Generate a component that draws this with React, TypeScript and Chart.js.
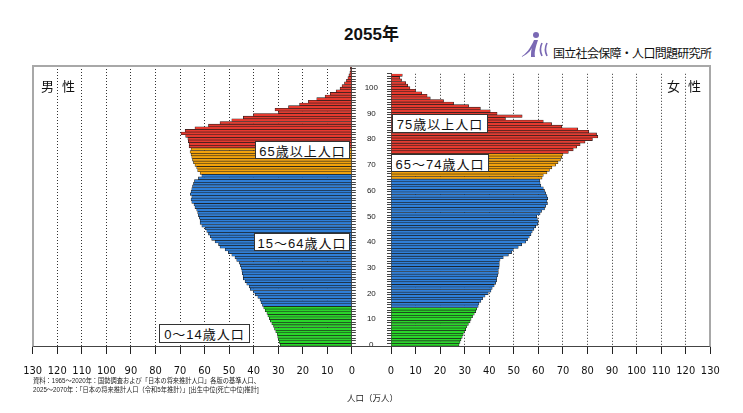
import { useEffect, useRef } from "react";
import { Chart, registerables } from "chart.js";

Chart.register(...registerables);

// 年齢（0〜105歳）
const AGES = Array.from({ length: 106 }, (_, i) => String(i));

// 男性人口（万人）0歳から順に
const MALE = [
  29.2, 29.6, 29.9, 30.2, 30.4, 31.0, 31.5, 31.9, 32.6, 33.2, // 0-9
  33.6, 34.2, 34.6, 35.3, 35.9, 36.4, 37.0, 37.4, 38.3, 39.4, // 10-19
  40.1, 41.4, 41.8, 42.8, 43.5, 44.2, 44.3, 44.6, 44.8, 45.1, // 20-29
  45.4, 45.9, 46.9, 47.6, 48.9, 50.3, 51.6, 53.7, 54.3, 55.7, // 30-39
  57.1, 57.7, 58.4, 59.1, 59.8, 61.1, 61.8, 61.8, 62.1, 62.5, // 40-49
  62.8, 63.2, 63.9, 64.3, 65.2, 65.5, 65.2, 65.8, 65.5, 65.2, // 50-59
  64.9, 64.5, 64.1, 62.5, 61.1, 61.8, 62.8, 63.2, 63.9, 64.5, // 60-69
  64.9, 65.2, 65.5, 65.9, 65.5, 66.3, 66.3, 66.6, 66.8, 67.7, // 70-79
  69.6, 67.9, 63.9, 58.4, 53.7, 48.9, 44.2, 40.1, 29.9, 31.3, // 80-89
  25.8, 21.3, 17.7, 14.3, 10.9, 8.8, 6.4, 4.8, 4.0, 3.0, // 90-99
  2.2, 1.6, 1.2, 0.8, 0.5, 0.6, // 100-105
];

// 女性人口（万人）0歳から順に
const FEMALE = [
  27.7, 28.1, 28.5, 29.0, 29.4, 29.9, 30.4, 30.9, 31.5, 32.2, // 0-9
  32.6, 33.2, 33.9, 34.5, 34.9, 35.5, 35.8, 36.6, 37.3, 38.3, // 10-19
  39.6, 40.7, 41.2, 42.0, 42.6, 43.0, 43.1, 43.4, 43.7, 43.7, // 20-29
  44.0, 44.1, 44.1, 44.4, 45.7, 47.8, 49.1, 49.8, 51.8, 53.2, // 30-39
  54.8, 55.6, 56.3, 57.0, 57.5, 58.2, 58.9, 59.7, 60.0, 59.6, // 40-49
  59.3, 60.7, 61.3, 62.5, 63.0, 63.7, 63.5, 63.8, 63.5, 63.0, // 50-59
  62.5, 62.0, 61.0, 60.7, 60.5, 61.5, 62.0, 63.5, 64.5, 65.5, // 60-69
  67.0, 68.0, 69.0, 69.5, 70.0, 72.2, 74.2, 75.6, 77.0, 79.0, // 70-79
  82.0, 84.2, 83.7, 80.5, 76.0, 69.5, 65.4, 62.0, 46.6, 53.4, // 80-89
  43.2, 40.4, 36.4, 31.6, 25.5, 21.4, 16.0, 14.7, 12.5, 10.0, // 90-99
  7.7, 6.8, 6.0, 4.3, 3.5, 4.6, // 100-105
];

// 年齢区分ごとの色：0〜14, 15〜64, 65〜74, 75〜
const GROUP_COLORS = ["#2ad62a", "#2f7fd8", "#f2a20c", "#e53a2f"];
const colorOf = (age: number) =>
  age <= 14 ? GROUP_COLORS[0] : age <= 64 ? GROUP_COLORS[1] : age <= 74 ? GROUP_COLORS[2] : GROUP_COLORS[3];

const FONT = '"Liberation Sans", Arial, "Noto Sans CJK JP", sans-serif';
const NARROW = '"Liberation Sans Narrow", "DejaVu Sans Condensed", "Liberation Sans", sans-serif';

const PyramidSide = ({ values, side, style }: any) => {
  const canvasRef = useRef<HTMLCanvasElement>(null);

  useEffect(() => {
    if (!canvasRef.current) return;
    const isLeft = side === "left";
    const chart = new Chart(canvasRef.current, {
      type: "bar",
      data: {
        labels: AGES,
        datasets: [
          {
            data: values,
            backgroundColor: AGES.map((a) => colorOf(Number(a))),
            borderColor: "#1b1b1b",
            borderWidth: 0.6,
            barPercentage: 1,
            categoryPercentage: 1,
          },
        ],
      },
      options: {
        indexAxis: "y",
        responsive: false,
        animation: false,
        events: [],
        layout: {
          padding: isLeft
            ? { left: 32.7, top: 6, right: 0, bottom: 0 }
            : { left: 0, top: 6, right: 32.7, bottom: 0 },
        },
        plugins: { legend: { display: false }, tooltip: { enabled: false } },
        scales: {
          x: {
            type: "linear",
            min: 0,
            max: 130,
            reverse: isLeft,
            ticks: {
              stepSize: 10,
              padding: 11,
              maxRotation: 0,
              autoSkip: false,
              color: "#111",
              font: { family: NARROW, size: 11 },
            },
            grid: {
              color: (ctx: any) =>
                ctx.tick && (ctx.tick.value === 0 || ctx.tick.value === 130) ? "rgba(0,0,0,0)" : "#333",
              lineWidth: 1,
              tickLength: 8,
              tickColor: "#222",
              tickWidth: 1,
            },
            border: { display: false, dash: [1, 2] },
            afterFit: (s: any) => {
              s.height = 36;
            },
          },
          y: {
            type: "category",
            position: isLeft ? "right" : "left",
            reverse: true,
            ticks: {
              display: !isLeft,
              autoSkip: false,
              crossAlign: "center",
              padding: 9,
              color: "#222",
              font: { family: FONT, size: 8 },
              callback: (_v: any, i: number) => (i % 10 === 0 ? AGES[i] : ""),
            },
            grid: { drawOnChartArea: false, tickLength: 4, color: "#444", tickColor: "#444" },
            border: { display: true, color: "#444", width: 1 },
            afterFit: (s: any) => {
              s.width = isLeft ? 6 : 36;
            },
          },
        },
      },
    } as any);

    return () => chart.destroy();
  }, [values, side]);

  return <canvas ref={canvasRef} width={style.width} height={style.height} style={{ position: "absolute", ...style }} />;
};

const boxStyle = (left: number, top: number, width: number, height: number): any => ({
  position: "absolute",
  left,
  top,
  width,
  height,
  boxSizing: "border-box",
  background: "#fff",
  border: "1px solid #333",
  font: `13px ${FONT}`,
  letterSpacing: 1,
  display: "flex",
  alignItems: "center",
  justifyContent: "center",
  color: "#111",
  whiteSpace: "nowrap",
  zIndex: 3,
});

export default function App() {
  return (
    <div
      style={{
        position: "fixed",
        left: 0,
        top: 0,
        width: 743,
        height: 413,
        overflow: "hidden",
        background: "#fff",
        fontFamily: FONT,
        color: "#111",
      }}
    >
      <div
        style={{
          position: "absolute",
          left: 0,
          width: 743,
          top: 20,
          textAlign: "center",
          font: `bold 17px ${FONT}`,
        }}
      >
        2055年
      </div>

      <svg width="30" height="27" viewBox="0 0 30 27" style={{ position: "absolute", left: 519, top: 31 }}>
        <circle cx="17" cy="4" r="3" fill="#7a69b4" />
        <path d="M1 26 C 7 24, 12 16, 15 9 L 19 9 C 17 15, 15 21, 16 26 L 12 26 C 12 22, 12 19, 13 17 C 10 22, 6 25, 1 26 Z" fill="#7a69b4" />
        <path d="M23 12 C 21 16, 21 21, 23 25" stroke="#7a69b4" strokeWidth="1.6" fill="none" />
        <path d="M28 12 C 26 16, 26 21, 28 25" stroke="#7a69b4" strokeWidth="1.6" fill="none" />
      </svg>
      <div style={{ position: "absolute", left: 553, top: 44, font: `12px ${FONT}`, letterSpacing: -0.7, whiteSpace: "nowrap" }}>
        国立社会保障・人口問題研究所
      </div>

      <PyramidSide values={MALE} side="left" style={{ left: 0, top: 60, width: 366, height: 322 }} />
      <PyramidSide values={FEMALE} side="right" style={{ left: 355, top: 60, width: 388, height: 322 }} />

      <div
        style={{
          position: "absolute",
          left: 32,
          top: 65,
          width: 679,
          height: 282,
          boxSizing: "border-box",
          borderTop: "2px solid #a8a8a8",
          borderLeft: "2px solid #a8a8a8",
          borderRight: "2px solid #a8a8a8",
          borderBottom: "1px solid #444",
          pointerEvents: "none",
          zIndex: 2,
        }}
      />

      <div style={{ position: "absolute", left: 41, top: 76, font: `13px ${FONT}`, zIndex: 3 }}>男</div>
      <div style={{ position: "absolute", left: 62, top: 76, font: `13px ${FONT}`, zIndex: 3 }}>性</div>
      <div style={{ position: "absolute", left: 667, top: 76, font: `13px ${FONT}`, zIndex: 3 }}>女</div>
      <div style={{ position: "absolute", left: 688, top: 76, font: `13px ${FONT}`, zIndex: 3 }}>性</div>

      <div style={boxStyle(255, 141, 95, 18)}>65歳以上人口</div>
      <div style={boxStyle(254, 233, 96, 18)}>15～64歳人口</div>
      <div style={boxStyle(159, 324, 91, 19)}>0～14歳人口</div>
      <div style={boxStyle(392, 114, 96, 19)}>75歳以上人口</div>
      <div style={boxStyle(391, 154, 98, 18)}>65～74歳人口</div>

      <div
        style={{
          position: "absolute",
          left: 33,
          top: 376,
          font: `7px ${FONT}`,
          lineHeight: "9px",
          whiteSpace: "nowrap",
          color: "#222",
          transform: "scaleX(0.89)",
          transformOrigin: "0 0",
        }}
      >
        資料：1965～2020年：国勢調査および「日本の将来推計人口」各版の基準人口、
        <br />
        2025～2070年：「日本の将来推計人口（令和5年推計）」[出生中位(死亡中位)推計]
      </div>
      <div style={{ position: "absolute", left: 1, width: 743, top: 391, textAlign: "center", font: `8.5px ${FONT}`, color: "#222" }}>
        人口（万人）
      </div>
    </div>
  );
}
